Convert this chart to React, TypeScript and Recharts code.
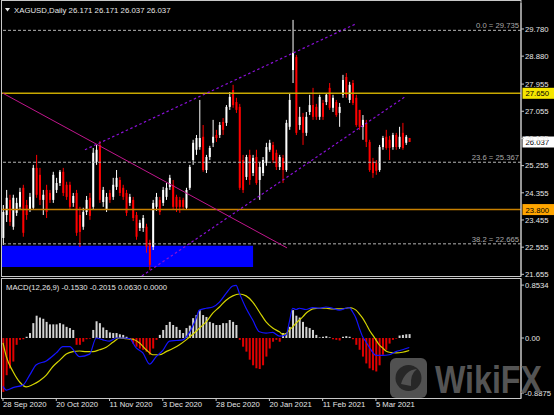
import { ComposedChart, Bar, Line, XAxis, YAxis, ReferenceLine, ReferenceArea, Cell } from "recharts";

const FONT = "'Liberation Sans', Arial, sans-serif";
const TEXT = "#e6e6e6";
const FRAME = "#c8c8c8";

// XAGUSD daily bars, oldest first
const opens = [
  22.86, 23.62, 24.12, 23.23, 23.69, 23.89, 24.52, 23.95, 23.79, 23.86,
  25.18, 24.95, 24.12, 24.45, 24.35, 24.12, 24.45, 24.68, 25.05, 24.62,
  24.62, 24.02, 24.35, 23.62, 23.23, 23.72, 24.19, 23.89, 25.38, 25.94,
  24.05, 23.79, 24.35, 24.22, 24.55, 24.78, 24.52, 24.35, 24.02, 24.12,
  23.62, 23.19, 23.19, 23.23, 22.7, 22.56, 23.89, 24.12, 24.02, 24.22,
  24.55, 24.62, 24.22, 24.12, 24.12, 23.86, 24.52, 25.44, 25.78, 25.87,
  26.21, 25.11, 25.54, 26.01, 26.27, 26.27, 26.7, 26.67, 27.2, 27.76,
  27.36, 27.2, 25.44, 24.88, 25.61, 25.01, 25.54, 24.78, 25.01, 25.34,
  25.78, 25.94, 25.68, 25.21, 25.51, 25.11, 26.54, 28.42, 28.85, 26.6,
  26.87, 26.34, 27.03, 27.26, 27.2, 26.87, 27.33, 27.36, 27.83, 27.17,
  27.36, 27.0, 27.6, 28.19, 27.43, 27.99, 27.5, 27.1, 26.54, 26.67,
  26.04, 25.38, 25.34, 25.11, 25.87, 26.21, 26.11, 25.87, 26.27, 25.87,
  26.34, 26.01, 26.171,
];
const highs = [
  23.95, 24.45, 24.29, 24.29, 24.19, 24.52, 24.62, 24.12, 24.35, 25.28,
  25.61, 25.18, 24.45, 24.62, 24.45, 25.05, 24.85, 25.11, 25.18, 24.72,
  24.72, 24.35, 24.45, 23.89, 23.86, 24.25, 24.35, 25.84, 25.94, 26.07,
  24.55, 24.35, 24.45, 24.85, 25.11, 24.88, 24.62, 24.45, 24.32, 24.22,
  23.72, 23.46, 23.62, 23.33, 22.8, 24.12, 24.35, 24.22, 24.55, 24.68,
  24.95, 24.78, 24.29, 24.22, 24.19, 24.52, 25.28, 26.11, 26.27, 27.43,
  26.6, 25.61, 25.91, 26.77, 26.44, 26.7, 26.83, 27.26, 27.69, 27.93,
  27.5, 27.3, 25.61, 25.61, 25.78, 25.61, 25.78, 25.38, 25.54, 26.01,
  26.11, 26.04, 25.78, 25.61, 25.61, 26.77, 27.66, 30.08, 28.92, 27.2,
  27.0, 27.03, 27.6, 27.83, 27.3, 27.6, 27.43, 27.66, 27.99, 27.6,
  27.43, 27.33, 28.26, 28.32, 28.03, 28.09, 27.6, 27.1, 26.93, 26.77,
  26.11, 25.51, 25.44, 25.94, 26.24, 26.44, 26.24, 26.34, 26.34, 26.54,
  26.67, 26.27, 26.171,
];
const lows = [
  22.63, 23.39, 23.26, 23.13, 23.59, 23.79, 22.9, 23.46, 23.72, 23.79,
  24.19, 23.95, 23.62, 23.52, 24.02, 24.02, 24.35, 24.58, 24.25, 24.12,
  23.79, 23.89, 22.93, 22.56, 23.13, 23.62, 23.46, 23.79, 25.28, 24.02,
  23.89, 23.72, 24.02, 24.12, 24.45, 24.25, 24.12, 23.59, 23.92, 23.42,
  22.8, 23.09, 23.06, 22.37, 21.8, 22.46, 23.76, 23.62, 23.92, 24.12,
  24.45, 23.79, 23.72, 23.69, 23.79, 23.79, 24.45, 25.28, 25.61, 25.78,
  25.05, 25.01, 25.44, 25.87, 26.04, 26.17, 26.27, 26.57, 27.1, 27.17,
  27.0, 24.45, 24.35, 24.78, 24.62, 24.91, 24.62, 24.12, 24.91, 25.25,
  25.71, 25.34, 25.11, 25.11, 24.68, 25.05, 26.44, 27.99, 26.27, 26.44,
  25.94, 26.24, 26.93, 26.77, 26.77, 26.77, 26.77, 27.26, 27.1, 27.03,
  26.87, 26.54, 27.5, 27.5, 27.33, 27.26, 26.54, 26.44, 26.11, 25.87,
  25.05, 24.85, 24.95, 25.05, 25.78, 25.78, 25.44, 25.78, 25.78, 25.81,
  25.78, 25.94, 26.037,
];
const closes = [
  23.72, 24.19, 23.39, 24.19, 24.02, 24.38, 23.03, 23.62, 24.22, 25.18,
  24.29, 24.12, 24.29, 23.72, 24.12, 24.95, 24.68, 25.05, 24.35, 24.22,
  23.89, 24.25, 23.03, 23.06, 23.72, 24.12, 23.59, 25.68, 25.78, 24.12,
  24.45, 24.22, 24.12, 24.62, 24.85, 24.35, 24.22, 23.69, 24.22, 23.52,
  22.9, 23.36, 23.52, 22.56, 21.97, 24.02, 24.22, 23.72, 24.45, 24.52,
  24.85, 23.89, 23.89, 23.89, 23.89, 24.45, 25.21, 26.01, 26.17, 26.17,
  25.11, 25.54, 25.84, 26.21, 26.17, 26.6, 26.44, 27.2, 27.53, 27.26,
  27.1, 24.52, 24.45, 25.54, 24.78, 25.51, 24.68, 25.21, 25.44, 25.87,
  26.01, 25.44, 25.21, 25.54, 25.11, 26.67, 27.43, 28.99, 26.34, 26.87,
  26.34, 26.87, 27.26, 26.87, 26.87, 27.53, 26.87, 27.6, 27.17, 27.5,
  26.93, 27.2, 28.09, 27.6, 27.93, 27.33, 26.6, 26.54, 26.77, 26.04,
  25.11, 25.01, 25.08, 25.87, 26.17, 25.84, 25.84, 26.27, 25.87, 26.21,
  25.84, 26.21, 26.037,
];

// MACD histogram, one value per bar
const histValues = [
  -0.87, -0.6, -0.49, -0.38, -0.11, -0.03, -0.02, 0.02, 0.08, 0.24,
  0.36, 0.33, 0.31, 0.26, 0.22, 0.22, 0.22, 0.24, 0.22, 0.18,
  0.16, 0.13, -0.11, -0.11, -0.06, -0.02, -0.01, 0.13, 0.27, 0.24,
  0.17, 0.13, 0.09, 0.08, 0.08, 0.06, 0.05, 0.02, -0.03, -0.09,
  -0.14, -0.17, -0.19, -0.22, -0.27, -0.17, -0.03, 0.05, 0.13, 0.21,
  0.26, 0.21, 0.18, 0.13, 0.08, 0.16, 0.2, 0.32, 0.37, 0.45,
  0.37, 0.34, 0.26, 0.24, 0.21, 0.21, 0.24, 0.24, 0.29, 0.26,
  0.21, -0.03, -0.14, -0.22, -0.35, -0.44, -0.49, -0.5, -0.44, -0.3,
  -0.17, -0.06, -0.03, -0.06, 0.08, 0.08, 0.18, 0.45, 0.36, 0.33,
  0.26, 0.18, 0.16, 0.13, 0.05, 0.01, 0.02, 0.03, 0.01, -0.02,
  -0.03, -0.04, 0.02, 0.03, 0.02, -0.02, -0.11, -0.19, -0.3, -0.41,
  -0.49, -0.52, -0.54, -0.44, -0.27, -0.19, -0.09, -0.03, -0.01, 0.04,
  0.05, 0.06, 0.063,
];

// MACD main line (blue) and signal line (yellow), sampled by bar index
const macdIdx = [
  0, 1, 3, 6, 8, 10, 13, 16, 18, 20, 23, 26, 28, 30, 32, 34, 36, 38, 40, 42,
  44, 46, 48, 50, 52, 54, 56, 58, 59, 61, 63, 65, 67, 69, 70, 71, 73, 75, 77, 79,
  81, 83, 85, 86, 87, 88, 89, 91, 93, 95, 97, 99, 101, 103, 104, 105, 106, 107, 108, 109,
  110, 111, 112, 114, 116, 118, 120, 122,
];
const macdVals = [
  -0.78, -0.84, -0.8, -0.76, -0.6, -0.43, -0.37, -0.24, -0.14, -0.14, -0.3, -0.26, 0.0, -0.03, -0.05, 0.0, 0.0, -0.01, -0.16, -0.24,
  -0.42, -0.3, -0.2, -0.05, -0.04, -0.03, 0.09, 0.32, 0.45, 0.48, 0.5, 0.58, 0.72, 0.84, 0.85, 0.72, 0.48, 0.29, 0.1, 0.08,
  0.09, 0.03, 0.05, 0.26, 0.48, 0.46, 0.48, 0.46, 0.49, 0.48, 0.5, 0.48, 0.45, 0.48, 0.49, 0.42, 0.32, 0.16, 0.02, -0.06,
  -0.15, -0.23, -0.28, -0.28, -0.27, -0.22, -0.19, -0.153,
];
const signalIdx = [
  0, 1, 3, 5, 7, 9, 11, 13, 15, 17, 19, 21, 23, 25, 27, 29, 31, 33, 35, 37,
  39, 41, 43, 45, 47, 49, 51, 53, 55, 57, 59, 61, 63, 65, 67, 69, 71, 73, 75, 77,
  79, 81, 83, 84, 85, 86, 87, 88, 89, 90, 91, 92, 93, 95, 97, 99, 101, 103, 104, 105,
  106, 107, 108, 109, 110, 111, 112, 113, 114, 115, 116, 118, 120, 122,
];
const signalVals = [
  -0.08, -0.3, -0.54, -0.71, -0.79, -0.75, -0.69, -0.6, -0.46, -0.36, -0.26, -0.22, -0.21, -0.22, -0.22, -0.19, -0.15, -0.07, 0.0, -0.01,
  -0.02, -0.08, -0.19, -0.27, -0.27, -0.22, -0.17, -0.11, -0.03, 0.06, 0.16, 0.26, 0.4, 0.5, 0.61, 0.68, 0.71, 0.68, 0.58, 0.42,
  0.26, 0.16, 0.1, 0.06, 0.07, 0.13, 0.18, 0.24, 0.29, 0.34, 0.4, 0.44, 0.47, 0.48, 0.48, 0.47, 0.47, 0.48, 0.49, 0.48,
  0.45, 0.39, 0.32, 0.23, 0.13, 0.05, -0.03, -0.11, -0.16, -0.21, -0.23, -0.24, -0.23, -0.2015,
];

const priceTicks = [29.78, 28.88, 27.955, 27.055, 26.155, 25.255, 24.355, 23.455, 22.555, 21.655];
const macdTicks = [0.8534, 0, -0.8875];
const dateTickIdx = [0, 16, 32, 48, 64, 80, 96, 112];
const dateLabels = ["28 Sep 2020", "20 Oct 2020", "11 Nov 2020", "3 Dec 2020", "28 Dec 2020", "20 Jan 2021", "11 Feb 2021", "5 Mar 2021"];

// fibonacci retracement levels
const fibPrices = [29.735, 25.367, 22.665];
const fibNames = ["0.0 = 29.735", "23.6 = 25.367", "38.2 = 22.665"];

const resistance = 27.65;
const support = 23.8;
const lastPrice = 26.037;

// demand zone (bar index range, price range)
const zoneBars = [-0.3, 75.1];
const zonePrices = [21.9, 22.6];

// trend lines as [bar index, price] end points
const downTrend = [[0, 27.65], [85.3, 22.53]];
const channelTop = [[24.6, 25.78], [106, 29.95]];
const channelBottom = [[41.7, 21.6], [120.7, 27.53]];

const X_DOMAIN: [number, number] = [-0.3, 155.56];

const candles = opens.map((open, i) => ({ i, open, high: highs[i], low: lows[i], close: closes[i] }));
const histRows = histValues.map((hist, i) => ({ i, hist }));
const macdLine = macdIdx.map((i, k) => ({ i, v: macdVals[k] }));
const signalLine = signalIdx.map((i, k) => ({ i, v: signalVals[k] }));

const seg = (pts: number[][]) => pts.map(([x, y]) => ({ x, y }));

function Candle(props: any) {
  const { x, y, width, height, payload } = props;
  const { open, high, low, close } = payload;
  const cx = x + width / 2;
  const top = Math.min(y, y + height);
  const h = Math.abs(height);
  const span = high - low || 1;
  const toY = (p: number) => top + ((high - p) / span) * h;
  const color = close >= open ? "#ffffff" : "#ff0000";
  const bTop = toY(Math.max(open, close));
  const bBot = toY(Math.min(open, close));
  return (
    <g>
      <line x1={cx} x2={cx} y1={top} y2={top + h} stroke={color} strokeWidth={1} />
      <rect x={cx - 1} y={bTop} width={2} height={Math.max(bBot - bTop, 1)} fill={color} />
    </g>
  );
}

function PriceTag(props: any) {
  const { viewBox, value, bg } = props;
  const vx = viewBox.x + viewBox.width + 1.5;
  const vy = viewBox.y;
  return (
    <g>
      <rect x={vx} y={vy - 5.5} width={32} height={11} fill={bg} />
      <text x={vx + 3} y={vy + 3} fontSize={7.7} fill="#000">{value}</text>
    </g>
  );
}

function FibLabel(props: any) {
  const { viewBox, value } = props;
  return (
    <text x={viewBox.x + viewBox.width - 2} y={viewBox.y - 2} textAnchor="end" fontSize={7.7} fill="#a8a8a8">
      {value}
    </text>
  );
}

function DateTick(props: any) {
  const { x, y, payload } = props;
  const label = dateLabels[dateTickIdx.indexOf(payload.value)];
  return (
    <text x={x} y={y + 5} fontSize={7.7} fill={TEXT}>
      {label}
    </text>
  );
}

export default function App() {
  return (
    <div style={{ position: "fixed", left: 0, top: 0, width: 554, height: 415, background: "#000", overflow: "hidden", fontFamily: FONT }}>
      {/* price panel */}
      <div style={{ position: "absolute", left: 0, top: 0 }}>
        <ComposedChart width={554} height={278} data={candles} margin={{ top: 3, right: 0, bottom: 2, left: 2 }}>
          <XAxis dataKey="i" type="number" domain={X_DOMAIN} allowDataOverflow hide />
          <YAxis
            orientation="right"
            width={33}
            domain={[21.6, 30.64]}
            allowDataOverflow
            ticks={priceTicks}
            interval={0}
            tickFormatter={(v: number) => v.toFixed(3)}
            tick={{ fill: TEXT, fontSize: 7.7 }}
            tickSize={3}
            tickMargin={1}
            axisLine={{ stroke: FRAME }}
            tickLine={{ stroke: FRAME }}
          />
          <ReferenceArea x1={zoneBars[0]} x2={zoneBars[1]} y1={zonePrices[0]} y2={zonePrices[1]} fill="#0000ff" fillOpacity={1} stroke="none" />
          {fibPrices.map((p, k) => (
            <ReferenceLine key={p} y={p} stroke="#b4b4b4" strokeDasharray="3 2" label={<FibLabel value={fibNames[k]} />} />
          ))}
          <Bar dataKey={(d: any) => [d.low, d.high]} barSize={2} shape={(p: any) => <Candle {...p} />} isAnimationActive={false} />
          <ReferenceLine y={resistance} stroke="#c9a800" strokeWidth={1.5} label={<PriceTag value="27.650" bg="#f5e600" />} />
          <ReferenceLine y={support} stroke="#c88000" strokeWidth={1.5} label={<PriceTag value="23.800" bg="#ffa500" />} />
          <ReferenceLine y={lastPrice} stroke="none" label={<PriceTag value="26.037" bg="#ffffff" />} />
          <ReferenceLine segment={seg(downTrend)} stroke="#c0168c" strokeWidth={1} ifOverflow="visible" />
          <ReferenceLine segment={seg(channelTop)} stroke="#8a10d8" strokeWidth={1.2} strokeDasharray="2.5 2.5" ifOverflow="visible" />
          <ReferenceLine segment={seg(channelBottom)} stroke="#8a10d8" strokeWidth={1.2} strokeDasharray="2.5 2.5" ifOverflow="visible" />
        </ComposedChart>
      </div>

      {/* MACD panel */}
      <div style={{ position: "absolute", left: 0, top: 278 }}>
        <ComposedChart width={554} height={137} data={histRows} margin={{ top: 1, right: 0, bottom: 0, left: 2 }}>
          <XAxis
            dataKey="i"
            type="number"
            domain={X_DOMAIN}
            allowDataOverflow
            ticks={dateTickIdx}
            interval={0}
            height={17}
            tick={<DateTick />}
            tickSize={3}
            tickMargin={1}
            axisLine={false}
            tickLine={{ stroke: FRAME }}
          />
          <YAxis
            orientation="right"
            width={33}
            domain={[-0.968, 0.952]}
            allowDataOverflow
            ticks={macdTicks}
            interval={0}
            tickFormatter={(v: number) => (v === 0 ? "0.00" : v.toFixed(4))}
            tick={{ fill: TEXT, fontSize: 7.7 }}
            tickSize={3}
            tickMargin={1}
            axisLine={{ stroke: FRAME }}
            tickLine={{ stroke: FRAME }}
          />
          <Bar dataKey="hist" barSize={2} isAnimationActive={false}>
            {histValues.map((v, k) => (
              <Cell key={k} fill={v >= 0 ? "#d2d2d2" : "#e00000"} />
            ))}
          </Bar>
          <Line data={signalLine} dataKey="v" type="monotone" stroke="#d4d400" strokeWidth={1.2} dot={false} isAnimationActive={false} />
          <Line data={macdLine} dataKey="v" type="monotone" stroke="#1414ff" strokeWidth={1.2} dot={false} isAnimationActive={false} />
        </ComposedChart>
      </div>

      {/* window frames, captions and watermark */}
      <svg width={554} height={415} style={{ position: "absolute", left: 0, top: 0, pointerEvents: "none" }}>
        <rect x={1.5} y={0.5} width={519.5} height={276} fill="none" stroke={FRAME} />
        <rect x={1.5} y={278.5} width={519.5} height={120} fill="none" stroke={FRAME} />
        <polygon points="5,8 10,8 7.5,11.5" fill={TEXT} />
        <text x={14} y={13} fontSize={7.8} fill={TEXT}>XAGUSD,Daily  26.171 26.171 26.037 26.037</text>
        <text x={6} y={289.5} fontSize={7.7} fill={TEXT}>MACD(12,26,9) -0.1530 -0.2015 0.0630 0.0000</text>
        <g opacity={0.9}>
          <rect x={390} y={358} width={37} height={40} rx={6} fill="#5a5a5a" />
          <circle cx={408.5} cy={378} r={13} fill="#2c2c2c" />
          <path d="M401 384 Q405 370 417 369 Q410 374 411 386 Z" fill="#5a5a5a" />
          <text x={435} y={393} fontSize={38} fontWeight="bold" fill="#5e5e5e" textLength={107} lengthAdjust="spacingAndGlyphs">
            WikiFX
          </text>
        </g>
      </svg>
    </div>
  );
}
